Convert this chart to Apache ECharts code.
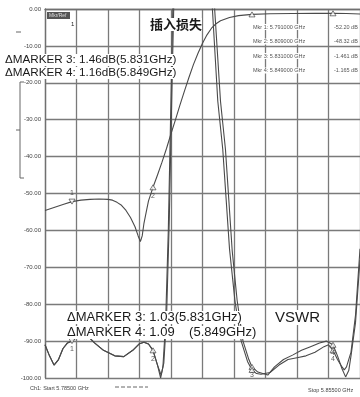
<!DOCTYPE html>
<html>
<head>
<meta charset="utf-8">
<script src="https://cdn.jsdelivr.net/npm/echarts@6/dist/echarts.min.js"></script>
<style>
  html,body{margin:0;padding:0;background:#fff}
  #chart{width:360px;height:397px}
</style>
</head>
<body>
<div id="chart"></div>
<script>
// sweep in GHz
const startFreq = 5.785
const stopFreq = 5.855
const yTicks = [0, -10, -20, -30, -40, -50, -60, -70, -80, -90, -100]

// insertion loss trace (dB)
const s21Freq = [5.785, 5.787, 5.789, 5.791, 5.793, 5.795, 5.797, 5.799, 5.800, 5.801, 5.802, 5.803, 5.804, 5.805, 5.8057, 5.8062, 5.8066, 5.807, 5.8075, 5.808, 5.809,
  5.810, 5.811, 5.812, 5.813, 5.814, 5.815, 5.816, 5.817, 5.818, 5.819, 5.820, 5.821, 5.822, 5.823, 5.824, 5.826, 5.828, 5.831, 5.835, 5.840, 5.845, 5.849, 5.852, 5.855]
const s21Db = [-54.6, -53.8, -53.0, -52.2, -51.8, -51.6, -51.5, -51.6, -51.8, -52.4, -53.2, -54.6, -56.5, -59.0, -61.5, -63.0, -61.5, -58.0, -55.0, -52.0, -48.32,
  -45.0, -41.5, -37.8, -33.8, -30.0, -26.0, -22.2, -18.5, -15.0, -12.0, -9.3, -7.0, -5.2, -4.0, -3.2, -2.3, -1.8, -1.461, -1.30, -1.22, -1.18, -1.165, -1.20, -1.35]

// VSWR traces
const vswrAFreq = [5.785, 5.786, 5.787, 5.788, 5.789, 5.790, 5.791, 5.7925, 5.7935, 5.7948, 5.796, 5.798, 5.8005, 5.8025, 5.8045, 5.806, 5.807, 5.808, 5.809, 5.810, 5.8107, 5.8112, 5.8118, 5.8124, 5.8129, 5.8134, 5.8140,
  5.8220, 5.8227, 5.8240, 5.8251, 5.8266, 5.8277, 5.8290, 5.8303, 5.831, 5.8323, 5.8345, 5.836, 5.838, 5.840, 5.842, 5.844, 5.846, 5.8475, 5.849, 5.850, 5.851, 5.8518, 5.8525, 5.853, 5.854, 5.855]
const vswrA = [1.09, 1.06, 1.035, 1.05, 1.08, 1.095, 1.10, 1.115, 1.12, 1.11, 1.095, 1.075, 1.06, 1.058, 1.075, 1.093, 1.097, 1.092, 1.075, 1.035, 1.0, 1.03, 1.15, 1.40, 1.70, 2.0, 2.4,
  2.4, 2.0, 1.75, 1.62, 1.345, 1.21, 1.10, 1.05, 1.03, 1.016, 1.008, 1.03, 1.05, 1.062, 1.075, 1.085, 1.095, 1.10, 1.09, 1.06, 1.025, 1.003, 1.02, 1.06, 1.15, 1.32]
const vswrBFreq = [5.785, 5.786, 5.787, 5.788, 5.789, 5.790, 5.791, 5.7925, 5.7935, 5.7948, 5.796, 5.798, 5.8005, 5.8025, 5.8045, 5.806, 5.807, 5.808, 5.809, 5.810, 5.8108, 5.8114, 5.812, 5.8126, 5.8131, 5.8136, 5.8142,
  5.8215, 5.8222, 5.8234, 5.8245, 5.8260, 5.8272, 5.8286, 5.8300, 5.831, 5.832, 5.833, 5.835, 5.837, 5.839, 5.841, 5.843, 5.845, 5.847, 5.848, 5.849, 5.850, 5.851, 5.8515, 5.852, 5.853, 5.854, 5.855]
const vswrB = [1.09, 1.06, 1.035, 1.05, 1.08, 1.095, 1.10, 1.115, 1.12, 1.11, 1.095, 1.075, 1.06, 1.058, 1.075, 1.093, 1.097, 1.092, 1.075, 1.035, 1.008, 1.04, 1.16, 1.42, 1.72, 2.0, 2.4,
  2.4, 2.0, 1.75, 1.62, 1.35, 1.21, 1.10, 1.045, 1.022, 1.012, 1.010, 1.015, 1.035, 1.05, 1.055, 1.06, 1.07, 1.085, 1.09, 1.075, 1.05, 1.03, 1.022, 1.03, 1.07, 1.17, 1.35]

// markers
const markerFreq = [5.791, 5.809, 5.831, 5.849]
const markerS21 = [-52.20, -48.32, -1.461, -1.165]
const markerVswrA = [1.10, 1.075, 1.03, 1.09]
const markerVswrB = [1.022, 1.075]

const toX = f => +((f - startFreq) * 1000).toFixed(3)
const pairs = (fs, vs) => fs.map((f, i) => [toX(f), vs[i]])

const lineStyle = { color: '#4a4a4a', width: 1.1 }
const markStyle = { color: '#fff', borderColor: '#444', borderWidth: 0.9 }
const numLabel = (txt, pos) => ({ show: true, formatter: txt, position: pos, distance: 2, fontSize: 7, color: '#333', fontFamily: 'Liberation Sans' })

const txt = (text, left, top, size, extra) => Object.assign({
  type: 'text', left, top, z: 100,
  style: Object.assign({ text, fontSize: size, fontFamily: 'Liberation Sans', fill: '#1a1a1a', backgroundColor: '#fff' }, extra || {})
})

const tableRows = markerFreq.map((f, i) => [
  txt('Mkr ' + (i + 1) + ': ' + f.toFixed(6) + ' GHz', 253, 24 + i * 14.5, 5.5, { fill: '#555' }),
  txt(markerS21[i].toPrecision(4) + ' dB', 334, 24 + i * 14.5, 5.5, { fill: '#555' })
]).flat()

const chart = echarts.init(document.getElementById('chart'))
const option = {
  animation: false,
  grid: { left: 45, top: 9, width: 321, height: 369 },
  xAxis: {
    type: 'value', min: 0, max: toX(stopFreq), interval: 7,
    axisLine: { lineStyle: { color: '#707070', width: 1.3 } },
    axisTick: { show: false }, axisLabel: { show: false },
    splitLine: { lineStyle: { color: '#7a7a7a', width: 1.3 } }
  },
  yAxis: [{
    type: 'value', min: yTicks[yTicks.length - 1], max: yTicks[0], interval: 10,
    axisLine: { show: true, lineStyle: { color: '#707070', width: 1.3 } },
    axisTick: { show: false },
    axisLabel: { formatter: v => v.toFixed(2), fontSize: 6, color: '#444', margin: 4, fontFamily: 'Liberation Sans' },
    splitLine: { lineStyle: { color: '#7a7a7a', width: 1.3 } }
  }, {
    type: 'value', min: 1, max: 2, show: false, splitLine: { show: false }
  }],
  series: [
    { type: 'line', data: pairs(s21Freq, s21Db), symbol: 'none', lineStyle, z: 3 },
    { type: 'line', yAxisIndex: 1, data: pairs(vswrAFreq, vswrA), symbol: 'none', lineStyle, z: 3 },
    { type: 'line', yAxisIndex: 1, data: pairs(vswrBFreq, vswrB), symbol: 'none', lineStyle, z: 3 },
    {
      type: 'scatter', symbol: 'triangle', symbolSize: [6, 5], itemStyle: markStyle, z: 4,
      data: [
        { value: [toX(markerFreq[0]), markerS21[0]], symbolRotate: 180, label: numLabel('1', 'top') },
        { value: [toX(markerFreq[1]), markerS21[1]], label: numLabel('2', 'bottom') },
        { value: [toX(markerFreq[2]), markerS21[2]] },
        { value: [toX(markerFreq[3]), markerS21[3]] }
      ]
    },
    {
      type: 'scatter', yAxisIndex: 1, symbol: 'triangle', symbolSize: [6, 5], itemStyle: markStyle, z: 4,
      data: [
        { value: [toX(markerFreq[0]), markerVswrA[0]], symbolRotate: 180, label: numLabel('1', 'bottom') },
        { value: [toX(markerFreq[1]), markerVswrA[1]], label: numLabel('2', 'bottom') },
        { value: [toX(markerFreq[2]), markerVswrA[2]], label: numLabel('3', 'bottom') },
        { value: [toX(markerFreq[3]), markerVswrA[3]], label: numLabel('4', 'bottom') },
        { value: [toX(markerFreq[2]), markerVswrB[0]] },
        { value: [toX(markerFreq[3]), markerVswrB[1]], label: numLabel('4', 'bottom') }
      ]
    }
  ],
  graphic: [
    { type: 'rect', z: 100, shape: { x: 47, y: 12, width: 23, height: 7 }, style: { fill: '#555' } },
    txt('Mkr/Ref', 49, 13, 5, { fill: '#ddd', backgroundColor: null }),
    txt('1', 71, 21, 6, { backgroundColor: null }),
    { type: 'polyline', z: 100, shape: { points: [[16, 32], [21, 32]] }, style: { stroke: '#666', lineWidth: 1 } },
    { type: 'polyline', z: 100, shape: { points: [[24, 82], [20, 82], [20, 178], [24, 178]] }, style: { stroke: '#666', fill: null, lineWidth: 1 } },
    { type: 'polyline', z: 100, shape: { points: [[16, 130], [20, 130]] }, style: { stroke: '#666', lineWidth: 1 } },
    txt('插入损失', 150, 18, 13, { fontWeight: 'bold', fontFamily: 'Noto Sans CJK SC' }),
    txt('ΔMARKER 3: 1.46dB(5.831GHz)', 5, 54, 11.7),
    txt('ΔMARKER 4: 1.16dB(5.849GHz)', 5, 67, 11.7),
    ...tableRows,
    txt('ΔMARKER 3: 1.03(5.831GHz)', 67, 311, 13),
    txt('ΔMARKER 4: 1.09    (5.849GHz)', 67, 326, 13),
    txt('VSWR', 275, 310, 15),
    txt('Ch1: Start ' + startFreq.toFixed(5) + ' GHz', 30, 385, 5.5, { fill: '#444' }),
    { type: 'polyline', z: 100, shape: { points: [[115, 387], [148, 387]] }, style: { stroke: '#666', lineWidth: 1, lineDash: [4, 2] } },
    txt('Stop ' + stopFreq.toFixed(5) + ' GHz', 308, 387, 5.5, { fill: '#444' })
  ]
}
chart.setOption(option)
</script>
</body>
</html>
